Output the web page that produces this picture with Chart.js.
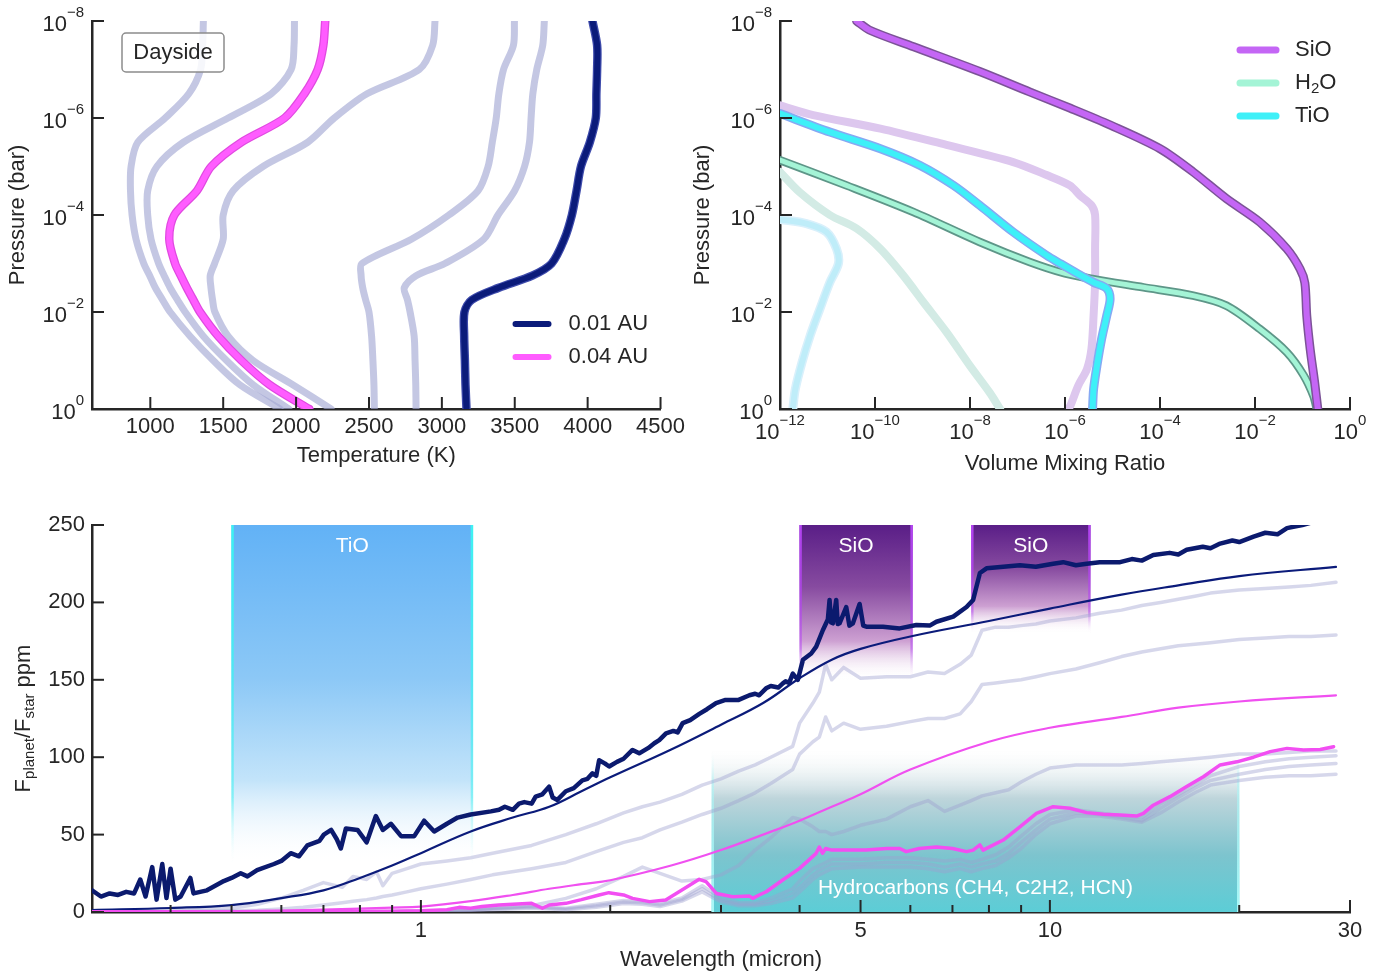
<!DOCTYPE html>
<html>
<head>
<meta charset="utf-8">
<script src="https://cdn.jsdelivr.net/npm/chart.js@4.4.1/dist/chart.umd.min.js"></script>
<style>
  body { margin: 0; background: #fff; overflow: hidden; }
  #wrap { position: relative; width: 1391px; height: 974px; }
  canvas { position: absolute; }
</style>
</head>
<body>
<div id="wrap">
  <canvas id="tp" width="690" height="480" style="left:0;top:0"></canvas>
  <canvas id="vmr" width="701" height="480" style="left:690px;top:0"></canvas>
  <canvas id="spec" width="1391" height="494" style="left:0;top:480px"></canvas>
</div>
<script>
const FONT = "'Liberation Sans', Arial, Helvetica, sans-serif";
const INK = '#262626';
Chart.defaults.font.family = FONT;
Chart.defaults.color = INK;

// ---------- top left: T-P profiles (pressure in bar, temperature in K)
const pressLevels = [1e-8, 3.16e-8, 1e-7, 3.16e-7, 1e-6, 3.16e-6, 1e-5, 3.16e-5, 1e-4, 3.16e-4,
  1e-3, 1.78e-3, 3.16e-3, 5.62e-3, 1e-2, 3.16e-2, 0.1, 0.316, 1];
const tp1 = [1364, 1359, 1345, 1264, 1102, 914, 868, 864, 875, 902, 955, 996, 1034, 1084, 1136, 1273, 1432, 1614, 1890];
const tp2 = [1989, 1986, 1966, 1830, 1534, 1227, 1045, 982, 982, 1005, 1057, 1095, 1136, 1186, 1239, 1364, 1523, 1705, 1950];
const tp3 = [2953, 2937, 2845, 2487, 2262, 2080, 1773, 1568, 1500, 1500, 1441, 1411, 1416, 1427, 1443, 1534, 1705, 1977, 2240];
const tp4 = [3498, 3491, 3423, 3391, 3373, 3346, 3317, 3248, 3048, 2791, 2452, 2446, 2457, 2477, 2500, 2518, 2527, 2534, 2537];
const tp5 = [3703, 3692, 3651, 3624, 3612, 3601, 3567, 3499, 3385, 3287, 3021, 2823, 2742, 2764, 2782, 2810, 2816, 2821, 2823];
const tpFar = [2200, 2187, 2148, 2057, 1921, 1625, 1418, 1320, 1165, 1130, 1170, 1209, 1250, 1295, 1341, 1466, 1625, 1818, 2091];   // 0.04 AU
const tpNear = [4033, 4065, 4065, 4060, 4056, 4015, 3954, 3924, 3892, 3840, 3753, 3620, 3390, 3205, 3155, 3153, 3158, 3162, 3169]; // 0.01 AU
const tempTicks = [1000, 1500, 2000, 2500, 3000, 3500, 4000, 4500];
const pressTicks = [1e-8, 1e-6, 1e-4, 1e-2, 1];

// ---------- top right: volume mixing ratios
const sioP = [1e-8, 1.55e-8, 3.4e-8, 1.1e-7, 2.9e-7, 6.3e-7, 1.4e-6, 4.3e-6, 1.3e-5, 4.6e-5, 1.4e-4, 5e-4, 1.3e-3, 2.5e-3, 1.2e-2, 5.8e-2, 0.28, 1];
const sioX = [4.1e-11, 7.8e-11, 6.5e-10, 1.6e-8, 1.8e-7, 1.3e-6, 9e-6, 1e-4, 5e-4, 2.5e-3, 1.26e-2, 4.7e-2, 8.9e-2, 0.112, 0.123, 0.145, 0.18, 0.21];
const sioFaintP = [5.5e-7, 8.7e-7, 1.66e-6, 3.6e-6, 8.1e-6, 1.5e-5, 2.45e-5, 4e-5, 6.3e-5, 1e-4, 5e-4, 2.45e-3, 1.17e-2, 5.8e-2, 0.15, 0.33, 0.85, 1];
const sioFaintX = [1e-12, 5e-12, 1.3e-10, 3.2e-9, 8.1e-8, 4.1e-7, 1.26e-6, 2.1e-6, 3.6e-6, 4.3e-6, 4.3e-6, 4.3e-6, 4e-6, 3.6e-6, 2.9e-6, 1.9e-6, 1.3e-6, 1.17e-6];
const tioP = [8.1e-7, 1.95e-6, 4.3e-6, 9.5e-6, 2.45e-5, 6.3e-5, 2.24e-4, 6.8e-4, 1e-3, 1.6e-3, 2.45e-3, 3.3e-3, 5.4e-3, 1.17e-2, 3.6e-2, 0.129, 0.39, 1];
const tioX = [1e-12, 1.12e-11, 1.3e-10, 8.9e-10, 4.5e-9, 1.6e-8, 8.1e-8, 4.1e-7, 7.9e-7, 1.8e-6, 4e-6, 7.6e-6, 8.9e-6, 7.6e-6, 5.9e-6, 4.7e-6, 4e-6, 3.8e-6];
const tioFaintP = [1.23e-4, 1.5e-4, 2.24e-4, 5e-4, 1e-3, 2.45e-3, 8.7e-3, 3.1e-2, 0.11, 0.39, 1];
const tioFaintX = [1e-12, 3.6e-12, 9.5e-12, 1.55e-11, 1.7e-11, 1.12e-11, 6.9e-12, 4.3e-12, 2.9e-12, 2.1e-12, 1.86e-12];
const h2oP = [7.4e-6, 2.45e-5, 8.7e-5, 3.6e-4, 9.3e-4, 1.6e-3, 2.1e-3, 3.1e-3, 4.6e-3, 7.4e-3, 2.24e-2, 6.8e-2, 0.2, 0.54, 1];
const h2oX = [1e-12, 2.5e-11, 6.5e-10, 1.6e-8, 1.8e-7, 1e-6, 4e-6, 4.5e-5, 5e-4, 2.5e-3, 1.26e-2, 4.7e-2, 0.105, 0.17, 0.2];
const h2oFaintP = [1.3e-5, 3.4e-5, 1e-4, 1.9e-4, 5e-4, 1.8e-3, 6.3e-3, 2.6e-2, 0.129, 0.46, 1];
const h2oFaintX = [1e-12, 2.6e-12, 1.12e-11, 4.1e-11, 1.3e-10, 4e-10, 1.05e-9, 3.2e-9, 1e-8, 2.6e-8, 4.3e-8];
const vmrTicks = [1e-12, 1e-10, 1e-8, 1e-6, 1e-4, 1e-2, 1];

// ---------- bottom: emission spectra (ppm vs micron)
const waveNavy = [0.30, 0.31, 0.32, 0.33, 0.34, 0.35, 0.358, 0.365, 0.374, 0.38, 0.388, 0.394, 0.40, 0.407, 0.415, 0.43, 0.435,
  0.457, 0.486, 0.50, 0.517, 0.53, 0.549, 0.584, 0.60, 0.621, 0.64, 0.66, 0.69, 0.701, 0.72, 0.735, 0.746, 0.76, 0.793, 0.82,
  0.848, 0.87, 0.896, 0.93, 0.976, 1.012, 1.05, 1.10, 1.144, 1.20, 1.292, 1.331, 1.36, 1.40, 1.432, 1.46, 1.50, 1.522, 1.56,
  1.599, 1.62, 1.648, 1.70, 1.75, 1.806, 1.84, 1.874, 1.90, 1.92, 1.96, 1.992, 2.05, 2.10, 2.17, 2.224, 2.30, 2.35, 2.393,
  2.453, 2.52, 2.56, 2.607, 2.68, 2.771, 2.85, 2.946, 3.05, 3.131, 3.2, 3.329, 3.4, 3.45, 3.538, 3.6, 3.7, 3.762, 3.8, 3.85,
  3.902, 3.975, 4.05, 4.174, 4.251, 4.355, 4.436, 4.464, 4.49, 4.519, 4.574, 4.60, 4.63, 4.745, 4.80, 4.862, 4.983, 5.05,
  5.107, 5.428, 5.769, 6.134, 6.44, 6.60, 7.02, 7.37, 7.55, 7.64, 7.74, 7.93, 8.43, 8.96, 9.5, 10.12, 10.5, 11, 11.44, 12,
  12.93, 13.5, 14, 14.6, 15.5, 16, 16.5, 17.5, 18, 18.65, 19.5, 20, 21.08, 22, 23, 23.82, 25.2, 28.5];
const flux01 = [14, 10, 12, 11, 13, 12, 21, 10, 29, 8, 31, 9, 28, 8, 10, 22, 12,
  14, 20, 22, 25, 23, 27, 31, 33, 38, 36, 43, 46, 50, 53, 47, 41, 54, 53, 45,
  62, 53, 57, 49, 49, 59, 52, 57, 61, 63, 65, 66, 68, 66, 70, 71, 70, 74.5, 76,
  81, 74, 72.4, 78, 80, 85, 86, 89.6, 88, 98, 96, 94, 97, 99, 104.7, 102.5, 106, 109, 111,
  115.4, 117, 116, 122, 124, 128, 131, 135, 137, 137, 137, 140, 141, 140, 144.5, 146, 145, 147.7, 149, 148,
  154, 150, 163, 167, 171.4, 182, 189, 201.6, 187, 186.5, 201.6, 186, 186.5, 197, 185, 186.5, 199, 185,
  184.3, 184.3, 183.2, 185.4, 185, 187.5, 190.8, 197, 201.6, 210, 219, 222, 223, 224, 223, 225, 226, 224, 225, 226,
  226, 228, 227, 230.6, 232, 231, 234, 236, 235, 238, 240, 239, 242.5, 245, 244, 248, 250, 256];
const waveMag = [0.3, 0.5, 0.7, 0.9, 1.0, 1.1, 1.15, 1.2, 1.25, 1.33, 1.4, 1.5, 1.56, 1.6, 1.7, 1.8, 1.92, 1.99, 2.1, 2.17,
  2.31, 2.45, 2.6, 2.77, 2.84, 2.95, 3.13, 3.33, 3.37, 3.45, 3.54, 3.76, 4.0, 4.25, 4.3, 4.35, 4.4, 4.5, 4.8, 5.1,
  5.5, 5.77, 5.91, 6.2, 6.6, 7.0, 7.37, 7.55, 7.74, 7.83, 8.43, 8.96, 9.52, 10.12, 10.76, 11.44, 12.16, 12.93, 13.74, 14.08,
  14.6, 15.52, 16.5, 17.54, 18.65, 19.83, 21.08, 22.4, 23.82, 25.3, 26.9, 28.25];
const flux04 = [0.2, 0.2, 0.3, 0.5, 0.8, 1.5, 3, 2.5, 3.5, 4.5, 5, 5.6, 2.4, 4.5, 5.6, 8, 11, 12.5, 11, 8.8,
  6.7, 7.8, 14.2, 21.1, 19.6, 12, 9.9, 10.3, 8.8, 11, 13.1, 20.7, 28.2, 37.9, 42, 38, 41, 40, 40, 40,
  41, 41, 39, 41, 42, 41, 39, 40, 43.3, 40, 46.5, 55, 63.7, 68, 67, 64.2, 63.1, 62.7, 62, 63.7,
  69, 74.5, 81, 87.4, 95, 97, 100, 103.6, 105.7, 104.7, 105, 106.8];
const waveSmooth = [0.3, 0.4, 0.5, 0.6, 0.7, 0.8, 0.9, 1.0, 1.2, 1.4, 1.6, 1.8, 2.0, 2.5, 3.0, 3.5, 4.0, 4.5, 5.0, 6.0, 8.0, 10, 13, 16, 20, 28.5];
const smooth01 = [1.3, 2.6, 4.5, 9, 14, 22, 30, 38, 52, 61, 68, 78, 87, 105, 121, 135, 151, 163, 170, 178, 188, 196, 205, 211, 217, 223];
const smooth04 = [0.1, 0.2, 0.5, 0.9, 1.5, 2.2, 2.8, 3.5, 7, 11, 15, 18, 20.5, 30, 40, 50, 59, 68, 76, 92, 110, 119, 126, 132, 136, 140];
const waveGrid = [0.3, 0.4, 0.5, 0.55, 0.6, 0.65, 0.7, 0.75, 0.78, 0.82, 0.85, 0.87, 0.9, 0.95, 1.0, 1.1, 1.2, 1.3, 1.5, 1.7,
  1.9, 2.1, 2.25, 2.4, 2.6, 2.8, 3.0, 3.2, 3.4, 3.6, 3.9, 4.0, 4.2, 4.3, 4.4, 4.5, 4.7, 5.0, 5.5, 6.0,
  6.4, 6.8, 7.2, 7.5, 7.8, 8.2, 8.6, 9.0, 9.5, 10, 11, 12, 13, 14, 15, 16, 17, 18, 20, 22, 24, 26, 28.5];
const lav1 = [0.5, 0.8, 2.4, 5, 9, 14, 19, 16, 23, 21, 26, 17, 25, 28, 31, 33, 35, 38, 43, 50,
  57, 64, 68, 71, 76, 82, 86, 91, 95, 100, 107, 122, 135, 142, 160, 150, 158, 151, 152, 152,
  155, 154, 160, 166, 182, 184, 184, 185, 186, 188, 190, 193, 195, 198, 200, 202, 204, 206, 208, 209, 210, 211, 213];
const lav2 = [0.2, 0.3, 0.8, 1.2, 2, 3, 4.5, 6, 7, 8, 9, 10, 11, 13, 15, 18, 21, 24, 28, 32,
  39, 45, 48, 53, 58, 63, 67, 72, 77, 83, 92, 102, 110, 113, 126, 117, 122, 118, 120, 123,
  125, 125, 128, 136, 147, 148, 149, 150, 152, 154, 157, 161, 165, 168, 170, 172, 173, 174, 176, 177, 178, 178, 179];
const lav3 = [0.1, 0.1, 0.1, 0.1, 0.15, 0.2, 0.2, 0.25, 0.3, 0.3, 0.35, 0.4, 0.4, 0.45, 0.5, 1, 1.5, 2.5, 4, 8.8,
  15, 23, 29, 25, 20, 21, 24, 30, 40, 48, 61, 60, 55, 52, 52, 50, 52, 56, 60, 68,
  72, 65, 69, 72, 75, 77, 79, 84, 89, 93, 95, 95, 95, 96, 97, 98, 99, 100, 102, 102, 103, 104, 104];
const lav4 = [0.2, 0.2, 0.2, 0.2, 0.2, 0.2, 0.2, 0.2, 0.2, 0.2, 0.2, 0.2, 0.2, 0.3, 0.4, 0.8, 1.5, 2.5, 3.5, 2.5,
  5, 7.5, 7, 5.5, 9, 17, 9, 6, 6, 9, 15, 20, 28, 30, 32, 34, 34, 34, 35, 35,
  34, 33, 34, 32, 34, 37, 42, 49, 57, 63, 66, 64, 62, 61, 70, 76, 82, 88, 94, 97, 99, 100, 101];
const lav5 = [0.15, 0.15, 0.15, 0.15, 0.15, 0.15, 0.15, 0.15, 0.15, 0.15, 0.15, 0.15, 0.15, 0.2, 0.3, 0.6, 1.2, 2, 3, 2,
  4, 6.5, 6, 4.5, 8, 15, 7.5, 5, 5, 7, 12, 16, 24, 27, 29, 31, 31, 31, 32, 32,
  31, 29, 31, 29, 31, 33, 38, 45, 53, 60, 64, 63, 61, 59, 67, 74, 80, 85, 89, 92, 94, 95, 96];
const lav6 = [0.1, 0.1, 0.1, 0.1, 0.1, 0.1, 0.1, 0.1, 0.1, 0.1, 0.1, 0.1, 0.1, 0.15, 0.2, 0.4, 0.9, 1.5, 2.5, 1.5,
  3, 5.5, 5, 3.5, 7, 13, 6.5, 4, 4, 5.5, 9, 13, 21, 24, 26, 28, 28.5, 29, 29, 29,
  28, 26, 28, 26, 28, 30, 35, 41, 50, 57, 62, 62, 60, 58, 64, 71, 77, 82, 85, 87, 88, 88, 89];
const waveTicks = [1, 5, 10, 30];
const waveMinor = [0.4, 0.5, 0.6, 0.7, 0.8, 0.9, 2, 3, 4, 6, 7, 8, 9, 20];
const fluxTicks = [0, 50, 100, 150, 200, 250];

// absorber bands: micron range, ppm where the shading is solid and where it has faded out
const bandNames = ['TiO', 'SiO', 'SiO', 'Hydrocarbons (CH4, C2H2, HCN)'];
const bandStart = [0.5, 4.0, 7.5, 2.9];
const bandEnd = [1.21, 6.05, 11.6, 20];
const bandSolid = [250, 250, 250, 0];
const bandFaded = [30, 150, 180, 105];
const bandLabelAt = [236, 236, 236, 15.5];

// ---------- helpers
const zip = (xs, ys) => xs.map((x, i) => ({ x, y: ys[i] }));

function line(data, color, width, tension) {
  return { data, borderColor: color, borderWidth: width, pointRadius: 0, fill: false,
    tension: tension || 0, borderJoinStyle: 'round', borderCapStyle: 'round' };
}

const setTicks = values => s => { s.ticks = values.map(v => ({ value: v })); };

function axis(type, min, max, ticks, size, labels, extra) {
  const horizontal = size.h !== undefined;
  return Object.assign({
    type, min, max,
    grid: { display: false, drawTicks: false },
    border: { display: true, color: INK, width: 2.5 },
    ticks: Object.assign({ display: labels, color: INK, font: { family: FONT, size: 22 },
      autoSkip: false, maxRotation: 0, callback: v => String(v) }, extra || {}),
    afterBuildTicks: setTicks(ticks),
    afterFit: s => { if (horizontal) s.height = size.h; else s.width = size.w; }
  }, size.rev ? { reverse: true } : {});
}

function tickMarks(chart, id, values, len) {
  const sc = chart.scales[id], a = chart.chartArea, ctx = chart.ctx;
  ctx.save();
  ctx.strokeStyle = INK; ctx.lineWidth = 2;
  values.forEach(v => {
    const p = sc.getPixelForValue(v);
    ctx.beginPath();
    if (sc.isHorizontal()) { ctx.moveTo(p, a.bottom); ctx.lineTo(p, a.bottom - len); }
    else { ctx.moveTo(a.left, p); ctx.lineTo(a.left + len, p); }
    ctx.stroke();
  });
  ctx.restore();
}

function powLabels(chart, id, values) {
  const sc = chart.scales[id], a = chart.chartArea, ctx = chart.ctx;
  ctx.save();
  ctx.fillStyle = INK; ctx.textBaseline = 'middle'; ctx.textAlign = 'left';
  values.forEach(v => {
    const e = Math.round(Math.log10(v));
    const ex = e < 0 ? '\u2212' + (-e) : String(e);
    ctx.font = `22px ${FONT}`; const wb = ctx.measureText('10').width;
    ctx.font = `15px ${FONT}`; const we = ctx.measureText(ex).width;
    let x, y;
    if (sc.isHorizontal()) { x = sc.getPixelForValue(v) - (wb + we) / 2; y = a.bottom + 24; }
    else { x = a.left - 8 - wb - we; y = sc.getPixelForValue(v) + 4; }
    ctx.font = `22px ${FONT}`; ctx.fillText('10', x, y);
    ctx.font = `15px ${FONT}`; ctx.fillText(ex, x + wb, y - 12);
  });
  ctx.restore();
}

// parts: [text, isSubscript]
function richWidth(ctx, parts) {
  return parts.reduce((w, [t, sub]) => { ctx.font = `${sub ? 15 : 22}px ${FONT}`; return w + ctx.measureText(t).width; }, 0);
}
function richText(ctx, parts, x, y) {
  let cx = x;
  parts.forEach(([t, sub]) => {
    ctx.font = `${sub ? 15 : 22}px ${FONT}`;
    ctx.fillText(t, cx, sub ? y + 6 : y);
    cx += ctx.measureText(t).width;
  });
}

function title(ctx, parts, x, y, rotate) {
  ctx.save();
  ctx.fillStyle = INK; ctx.textBaseline = 'middle'; ctx.textAlign = 'left';
  ctx.translate(x, y);
  if (rotate) ctx.rotate(-Math.PI / 2);
  richText(ctx, parts, -richWidth(ctx, parts) / 2, 0);
  ctx.restore();
}

function legendRows(ctx, rows, x0, x1, xt, y0, dy, lw) {
  ctx.save();
  ctx.textBaseline = 'middle'; ctx.textAlign = 'left';
  rows.forEach(([parts, color], i) => {
    const y = y0 + i * dy;
    ctx.strokeStyle = color; ctx.lineWidth = lw; ctx.lineCap = 'round';
    ctx.beginPath(); ctx.moveTo(x0, y); ctx.lineTo(x1, y); ctx.stroke();
    ctx.fillStyle = INK;
    richText(ctx, parts, xt, y);
  });
  ctx.restore();
}

const baseOptions = pad => ({
  responsive: false, animation: false, events: [],
  layout: { padding: pad },
  plugins: { legend: { display: false }, tooltip: { enabled: false } }
});

// ---------- chart 1: temperature profiles
const LAV_TP = 'rgba(166,170,212,0.66)';
const NAVY = '#0b1b7a';
const PINK = '#ff5cff';
const tpSets = [
  ...[tp1, tp2, tp3, tp4, tp5].map(t => line(zip(t, pressLevels), LAV_TP, 7, 0.3)),
  line(zip(tpFar, pressLevels), '#e04ae0', 8.5, 0.3),
  line(zip(tpFar, pressLevels), PINK, 6, 0.3),
  line(zip(tpNear, pressLevels), '#3e4bab', 8.5, 0.3),
  line(zip(tpNear, pressLevels), NAVY, 6, 0.3)
].reverse();

new Chart(document.getElementById('tp'), {
  type: 'line',
  data: { datasets: tpSets },
  options: Object.assign(baseOptions({ left: 0, right: 25, top: 21, bottom: 0 }), {
    scales: {
      x: axis('linear', 600, 4500, tempTicks, { h: 71 }, true, { padding: 5 }),
      y: axis('logarithmic', 1e-8, 1, pressTicks, { w: 92, rev: true }, false)
    }
  }),
  plugins: [{
    id: 'tpDecor',
    afterDraw(chart) {
      const ctx = chart.ctx, a = chart.chartArea;
      tickMarks(chart, 'x', tempTicks, 12);
      tickMarks(chart, 'y', pressTicks, 12);
      powLabels(chart, 'y', pressTicks);
      title(ctx, [['Temperature (K)']], (a.left + a.right) / 2, a.bottom + 47, false);
      title(ctx, [['Pressure (bar)']], a.left - 74, (a.top + a.bottom) / 2, true);
      // Dayside tag
      ctx.save();
      ctx.beginPath();
      ctx.roundRect(a.left + 30, a.top + 12, 102, 39, 4);
      ctx.fillStyle = 'rgba(255,255,255,0.85)'; ctx.fill();
      ctx.strokeStyle = '#8c8c8c'; ctx.lineWidth = 1.5; ctx.stroke();
      ctx.fillStyle = INK; ctx.font = `22px ${FONT}`;
      ctx.textAlign = 'center'; ctx.textBaseline = 'middle';
      ctx.fillText('Dayside', a.left + 81, a.top + 32);
      ctx.restore();
      legendRows(ctx, [[[['0.01 AU']], NAVY], [[['0.04 AU']], PINK]],
        a.right - 145, a.right - 112, a.right - 92, a.bottom - 85, 33, 6);
    }
  }]
});

// ---------- chart 2: mixing ratios
const SIO = '#c466f5', H2O = '#a4f4d6', TIO = '#3ef0f8';
const vmrSets = [
  line(zip(sioFaintX, sioFaintP), '#ddc7ee', 8, 0.3),
  line(zip(h2oFaintX, h2oFaintP), '#d3ebe5', 8, 0.3),
  line(zip(tioFaintX, tioFaintP), '#d9f0fb', 9, 0.3),
  line(zip(tioFaintX, tioFaintP), '#bfedf9', 6, 0.3),
  line(zip(h2oX, h2oP), '#5e9688', 8.5, 0.3),
  line(zip(h2oX, h2oP), H2O, 5, 0.3),
  line(zip(tioX, tioP), '#86a9f3', 9, 0.3),
  line(zip(tioX, tioP), TIO, 6, 0.3),
  line(zip(sioX, sioP), '#7c5397', 9, 0.3),
  line(zip(sioX, sioP), SIO, 6, 0.3)
].reverse();

new Chart(document.getElementById('vmr'), {
  type: 'line',
  data: { datasets: vmrSets },
  options: Object.assign(baseOptions({ left: 0, right: 41, top: 21, bottom: 0 }), {
    scales: {
      x: axis('logarithmic', 1e-12, 1, vmrTicks, { h: 71 }, false),
      y: axis('logarithmic', 1e-8, 1, pressTicks, { w: 90, rev: true }, false)
    }
  }),
  plugins: [{
    id: 'vmrDecor',
    afterDraw(chart) {
      const ctx = chart.ctx, a = chart.chartArea;
      tickMarks(chart, 'x', vmrTicks, 12);
      tickMarks(chart, 'y', pressTicks, 12);
      powLabels(chart, 'x', vmrTicks);
      powLabels(chart, 'y', pressTicks);
      title(ctx, [['Volume Mixing Ratio']], (a.left + a.right) / 2, a.bottom + 55, false);
      title(ctx, [['Pressure (bar)']], a.left - 77, (a.top + a.bottom) / 2, true);
      legendRows(ctx, [[[['SiO']], SIO], [[['H'], ['2', true], ['O']], H2O], [[['TiO']], TIO]],
        a.right - 110, a.right - 74, a.right - 55, a.top + 29, 33, 7);
    }
  }]
});

// ---------- chart 3: spectra
const LAV = 'rgba(158,160,208,0.42)';
const bandStops = [
  [[0, '#62b2f6'], [0.45, '#8cc8f6'], [0.75, '#c3e4fa'], [1, 'rgba(255,255,255,0)']],
  [[0, '#5a1e87'], [0.4, '#874ba0'], [0.75, '#cda0d2'], [1, 'rgba(255,255,255,0)']],
  [[0, '#5a1e87'], [0.4, '#874ba0'], [0.75, '#cda0d2'], [1, 'rgba(255,255,255,0)']],
  [[0, '#5ccdd6'], [0.35, '#7dc4ce'], [0.7, '#bed5db'], [1, 'rgba(245,247,248,0)']]
];
const bandEdge = ['#3ef2f2', '#b444f2', '#b444f2', '#aaf7f7'];

const specSets = [
  ...[lav1, lav2, lav3, lav4, lav5, lav6].map(v => line(zip(waveGrid, v), LAV, 3.5)),
  line(zip(waveSmooth, smooth01), NAVY, 2.2, 0.4),
  line(zip(waveSmooth, smooth04), '#f050f0', 2.2, 0.4),
  line(zip(waveMag, flux04), '#f24ef2', 3.5),
  line(zip(waveNavy, flux01), '#0b1a6e', 4.5)
].reverse();

new Chart(document.getElementById('spec'), {
  type: 'line',
  data: { datasets: specSets },
  options: Object.assign(baseOptions({ left: 0, right: 41, top: 45, bottom: 0 }), {
    scales: {
      x: axis('logarithmic', 0.3, 30, waveTicks, { h: 62 }, true, { padding: 6 }),
      y: axis('linear', 0, 250, fluxTicks, { w: 92 }, true, { padding: 7 })
    }
  }),
  plugins: [{
    id: 'bands',
    beforeDatasetsDraw(chart) {
      const ctx = chart.ctx, a = chart.chartArea, xs = chart.scales.x, ys = chart.scales.y;
      ctx.save();
      ctx.beginPath(); ctx.rect(a.left, a.top, a.right - a.left, a.bottom - a.top); ctx.clip();
      bandNames.forEach((name, i) => {
        const x0 = xs.getPixelForValue(bandStart[i]), x1 = xs.getPixelForValue(bandEnd[i]);
        const yS = ys.getPixelForValue(bandSolid[i]), yF = ys.getPixelForValue(bandFaded[i]);
        const g = ctx.createLinearGradient(0, yS, 0, yF);
        bandStops[i].forEach(([t, c]) => g.addColorStop(t, c));
        ctx.fillStyle = g;
        ctx.fillRect(x0, Math.min(yS, yF), x1 - x0, Math.abs(yF - yS));
        const ge = ctx.createLinearGradient(0, yS, 0, yF);
        ge.addColorStop(0, bandEdge[i]); ge.addColorStop(0.8, bandEdge[i] + '88'); ge.addColorStop(1, 'rgba(255,255,255,0)');
        ctx.strokeStyle = ge; ctx.lineWidth = 2.5;
        ctx.beginPath();
        ctx.moveTo(x0 + 1, yS); ctx.lineTo(x0 + 1, yF);
        ctx.moveTo(x1 - 1, yS); ctx.lineTo(x1 - 1, yF);
        ctx.stroke();
      });
      ctx.restore();
    },
    afterDatasetsDraw(chart) {
      const ctx = chart.ctx, xs = chart.scales.x, ys = chart.scales.y;
      ctx.save();
      ctx.fillStyle = '#fff'; ctx.font = `21px ${FONT}`;
      ctx.textAlign = 'center'; ctx.textBaseline = 'middle';
      bandNames.forEach((name, i) => {
        const xc = (xs.getPixelForValue(bandStart[i]) + xs.getPixelForValue(bandEnd[i])) / 2;
        ctx.fillText(name, xc, ys.getPixelForValue(bandLabelAt[i]));
      });
      ctx.restore();
    },
    afterDraw(chart) {
      const ctx = chart.ctx, a = chart.chartArea;
      tickMarks(chart, 'x', waveTicks, 12);
      tickMarks(chart, 'x', waveMinor, 7);
      tickMarks(chart, 'y', fluxTicks, 12);
      title(ctx, [['Wavelength (micron)']], (a.left + a.right) / 2, a.bottom + 48, false);
      title(ctx, [['F'], ['planet', true], ['/F'], ['star', true], [' ppm']], a.left - 68, (a.top + a.bottom) / 2, true);
    }
  }]
});
</script>
</body>
</html>
